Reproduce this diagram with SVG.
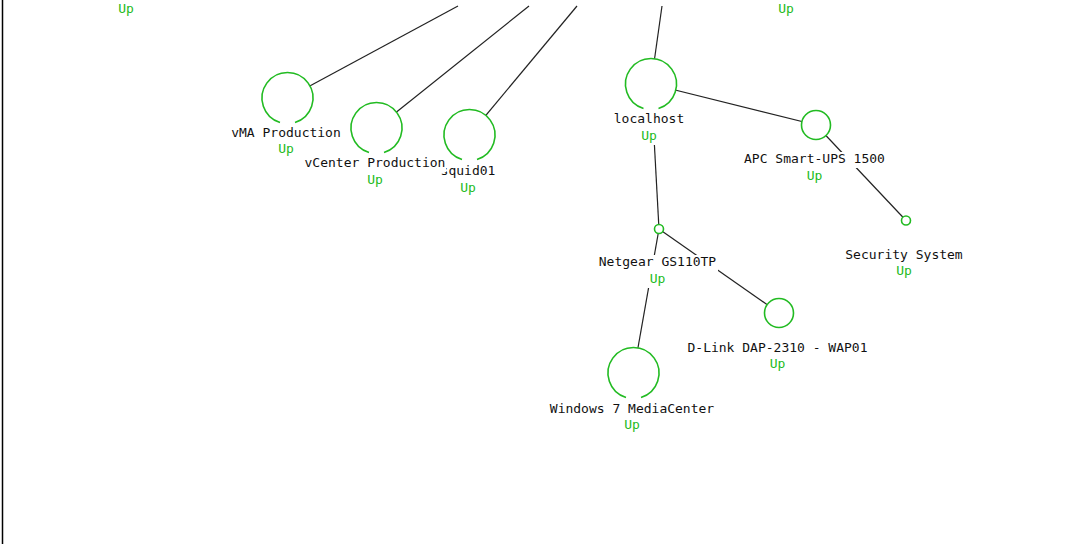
<svg xmlns="http://www.w3.org/2000/svg" width="1074" height="544" viewBox="0 0 1074 544">
<style>
.bg{fill:#ffffff}
.edge{stroke:#222222;stroke-width:1.2;fill:none}
.ring{fill:#ffffff;stroke:#22bb22;stroke-width:1.6}
.lbl{font-family:"DejaVu Sans Mono","Liberation Mono",monospace;font-size:13px;fill:#111111;text-anchor:middle}
.st{font-family:"DejaVu Sans Mono","Liberation Mono",monospace;font-size:13px;fill:#22bb22;text-anchor:middle}
.lb{fill:#ffffff}
</style>
<rect class="bg" x="0" y="0" width="1074" height="544"/>
<line x1="2.5" y1="0" x2="2.5" y2="544" stroke="#000" stroke-width="1.5"/>
<text class="st" x="126" y="13">Up</text>
<text class="st" x="786" y="13">Up</text>
<g id="connectors">
<line class="edge" x1="458" y1="6" x2="287.5" y2="98"/>
<line class="edge" x1="529" y1="6" x2="376.5" y2="128"/>
<line class="edge" x1="577" y1="6" x2="469.5" y2="135"/>
<line class="edge" x1="662" y1="6" x2="651" y2="84"/>
<line class="edge" x1="651" y1="84" x2="816" y2="125"/>
<line class="edge" x1="816" y1="125" x2="906" y2="220.5"/>
<line class="edge" x1="654.3" y1="143" x2="659" y2="229"/>
<line class="edge" x1="659" y1="229" x2="779" y2="313"/>
<line class="edge" x1="659" y1="229" x2="633.5" y2="373"/>
</g>
<g id="node-vma">
<circle cx="287.5" cy="98" r="25.5" fill="#fff"/>
<path class="ring" fill="none" transform="translate(287.5,98)" d="M7.5,24.4 A25.5,25.5 0 1 0 -7.5,24.4"/>
<rect class="lb" x="230" y="126" width="112" height="16"/>
<rect class="lb" x="277" y="141" width="18" height="16"/>
<text class="lbl" x="286" y="137">vMA Production</text>
<text class="st" x="286" y="153">Up</text>
</g>
<g id="node-squid01">
<circle cx="469.5" cy="135" r="25.5" fill="#fff"/>
<path class="ring" fill="none" transform="translate(469.5,135)" d="M7.5,24.4 A25.5,25.5 0 1 0 -7.5,24.4"/>
<rect class="lb" x="440" y="164" width="56" height="16"/>
<rect class="lb" x="459" y="180" width="18" height="16"/>
<text class="lbl" x="468" y="175">squid01</text>
<text class="st" x="468" y="192">Up</text>
</g>
<g id="node-vcenter">
<circle cx="376.5" cy="128" r="25.5" fill="#fff"/>
<path class="ring" fill="none" transform="translate(376.5,128)" d="M7.5,24.4 A25.5,25.5 0 1 0 -7.5,24.4"/>
<rect class="lb" x="304" y="156" width="142" height="16"/>
<rect class="lb" x="366" y="172" width="18" height="16"/>
<text class="lbl" x="375" y="167">vCenter Production</text>
<text class="st" x="375" y="184">Up</text>
</g>
<g id="node-localhost">
<circle cx="651" cy="84" r="25.5" fill="#fff"/>
<path class="ring" fill="none" transform="translate(651,84)" d="M7.5,24.4 A25.5,25.5 0 1 0 -7.5,24.4"/>
<rect class="lb" x="613" y="112" width="72" height="17"/>
<rect class="lb" x="640" y="128" width="18" height="17"/>
<text class="lbl" x="649" y="123">localhost</text>
<text class="st" x="649" y="140">Up</text>
</g>
<g id="node-apc">
<circle class="ring" cx="816" cy="125" r="14.5"/>
<rect class="lb" x="743" y="152" width="143" height="16"/>
<rect class="lb" x="805" y="168" width="18" height="16"/>
<text class="lbl" x="814.5" y="163">APC Smart-UPS 1500</text>
<text class="st" x="814.5" y="180">Up</text>
</g>
<g id="node-security">
<circle class="ring" cx="906" cy="220.5" r="4.5"/>
<rect class="lb" x="844" y="248" width="120" height="16"/>
<rect class="lb" x="895" y="263" width="18" height="16"/>
<text class="lbl" x="904" y="259">Security System</text>
<text class="st" x="904" y="275">Up</text>
</g>
<g id="node-netgear">
<circle class="ring" cx="659" cy="229" r="4.5"/>
<rect class="lb" x="598" y="255" width="120" height="17"/>
<rect class="lb" x="648" y="271" width="18" height="17"/>
<text class="lbl" x="657.5" y="266">Netgear GS110TP</text>
<text class="st" x="657.5" y="283">Up</text>
</g>
<g id="node-dlink">
<circle class="ring" cx="779" cy="313" r="14.5"/>
<rect class="lb" x="686" y="341" width="183" height="16"/>
<rect class="lb" x="768" y="356" width="18" height="16"/>
<text class="lbl" x="777.5" y="352">D-Link DAP-2310 - WAP01</text>
<text class="st" x="777.5" y="368">Up</text>
</g>
<g id="node-windows">
<circle cx="633.5" cy="373" r="25.5" fill="#fff"/>
<path class="ring" fill="none" transform="translate(633.5,373)" d="M7.5,24.4 A25.5,25.5 0 1 0 -7.5,24.4"/>
<rect class="lb" x="549" y="402" width="166" height="16"/>
<rect class="lb" x="623" y="417" width="18" height="16"/>
<text class="lbl" x="632" y="413">Windows 7 MediaCenter</text>
<text class="st" x="632" y="429">Up</text>
</g>
</svg>
